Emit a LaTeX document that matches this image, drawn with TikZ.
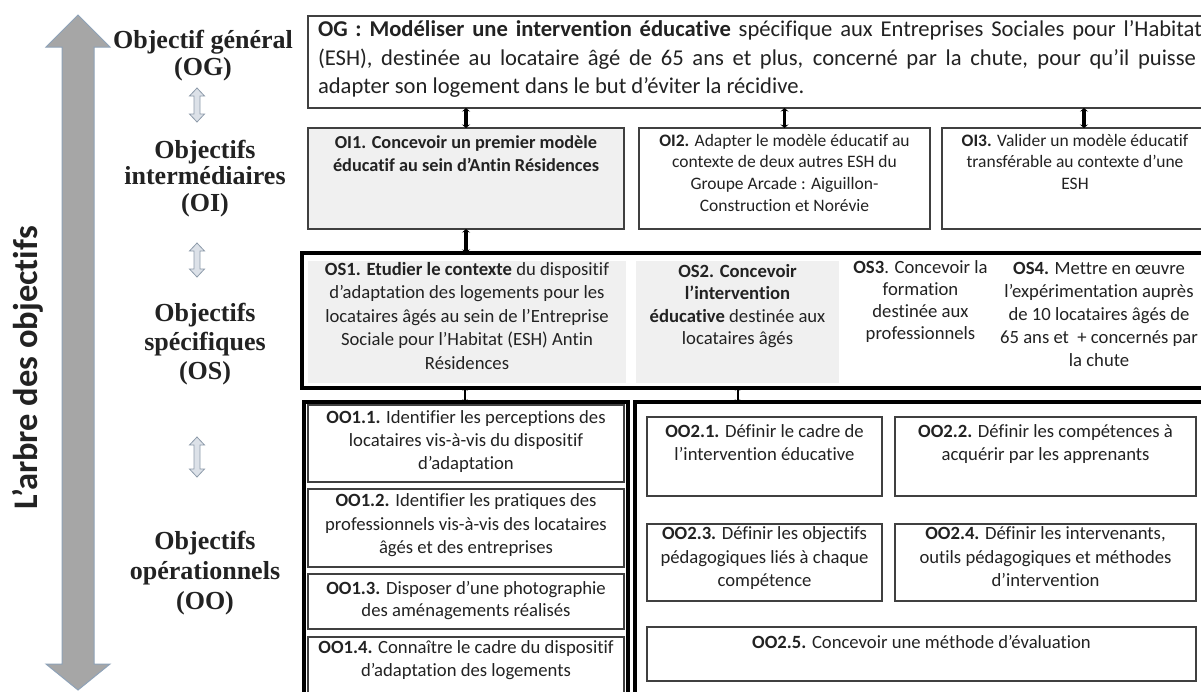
\documentclass[tikz,border=0pt]{standalone}
\usepackage{fontspec}
\setmainfont{Carlito}[Ligatures={NoCommon,NoContextual,NoRare}, Contextuals=NoAlternate]
\newfontfamily\cam{Liberation Serif}
\usetikzlibrary{arrows.meta}
\definecolor{boxgray}{HTML}{F0F0F0}
\definecolor{bigfill}{HTML}{A6A6A6}
\definecolor{bigline}{HTML}{8EA2B8}
\definecolor{smfill}{HTML}{DCE1E8}
\definecolor{smline}{HTML}{8E9BAA}
\definecolor{txt}{HTML}{222222}
\newcommand\fs[2]{\fontsize{#1}{#2}\selectfont}
\tikzset{
  box/.style={draw=black!75, line width=1.1pt, inner sep=0pt, outer sep=0pt, anchor=north west},
  dbox/.style={draw=black!55, line width=0.5pt, double=white, double distance=1.1pt, inner sep=0pt, outer sep=0pt, anchor=north west},
  frame/.style={draw=black, line width=3.2pt, inner sep=0pt, outer sep=0pt, anchor=north west},
  tx/.style={inner sep=0pt, outer sep=0pt, anchor=north, align=center, text=txt, execute at begin node=\strut},
  lab/.style={inner sep=0pt, outer sep=0pt, anchor=north, align=center, text=txt, execute at begin node=\strut},
  conn/.style={draw=black, line width=3.4pt, {Stealth[length=3.5pt,width=8pt]}-{Stealth[length=3.5pt,width=8pt]}},
  sconn/.style={draw=black, line width=2pt, {Stealth[length=2.5pt,width=5.5pt]}-{Stealth[length=2.5pt,width=5.5pt]}},
  sarr/.style={fill=smfill, draw=smline, line width=0.8pt},
}
% box: name, x1, y1, x2, y2, style
\newcommand\bx[6]{\node[#6, minimum width={#4pt-#2pt}, minimum height={#5pt-#3pt}] (#1) at (#2,#3) {};}
% small light double arrow: x, y1, y2
\newcommand\sarrow[3]{\filldraw[sarr] (#1,#2) -- (#1+7.5,#2+8) -- (#1+3,#2+8) -- (#1+3,#3-8) -- (#1+7.5,#3-8) -- (#1,#3) -- (#1-7.5,#3-8) -- (#1-3,#3-8) -- (#1-3,#2+8) -- (#1-7.5,#2+8) -- cycle;}
\begin{document}
\begin{tikzpicture}[x=1pt,y=-1pt]
\useasboundingbox (0,0) rectangle (1201,691);
\clip (0,0) rectangle (1201,691);
\fill[white] (0,0) rectangle (1201,691);

% big vertical double arrow
\filldraw[fill=bigfill, draw=bigline, line width=1pt]
  (78,15) -- (110,47) -- (94,47) -- (94,664) -- (110,664) -- (78,690) -- (46,664) -- (62,664) -- (62,47) -- (46,47) -- cycle;
\node[rotate=90, inner sep=0pt, text=txt, font=\bfseries\fs{34.5}{40}] (title) at (28,368) {L’arbre des objectifs};

% left labels
\node[lab, font=\cam\bfseries\fs{26}{27}] (lOG) at (203,30) {Objectif général\\(OG)};
\node[lab, font=\cam\bfseries\fs{26}{26.5}] (lOI) at (205,140) {Objectifs\\intermédiaires\\(OI)};
\node[lab, font=\cam\bfseries\fs{26}{29}] (lOS) at (205,303) {Objectifs\\spécifiques\\(OS)};
\node[lab, font=\cam\bfseries\fs{26}{30}] (lOO) at (205,531) {Objectifs\\opérationnels\\(OO)};
\sarrow{197}{88}{122}
\sarrow{197}{243}{277}
\sarrow{197}{437}{477}

% OG
\bx{og}{308}{16}{1210}{108}{box}
\node[inner sep=0pt, outer sep=0pt, anchor=north west, align=left, text=txt, font=\fs{22.6}{28.5}, execute at begin node=\strut] (ogt) at (318,21)
 {\makebox[884pt][s]{\textbf{OG : Modéliser une intervention éducative} spécifique aux Entreprises Sociales pour l’Habitat}\\
  \makebox[878pt][s]{(ESH), destinée au locataire âgé de 65 ans et plus, concerné par la chute, pour qu’il puisse}\\
  adapter son logement dans le but d’éviter la récidive.};

% OI
\bx{oi1}{308}{128}{624}{229}{box, fill=boxgray}
\bx{oi2}{639}{128}{930}{229}{box}
\bx{oi3}{942}{128}{1210}{229}{box}
\node[tx, font=\bfseries\fs{18.3}{23}] (oi1t) at (466,136) {OI1. Concevoir un premier modèle\\éducatif au sein d’Antin Résidences};
\node[tx, font=\fs{17.5}{21.7}] (oi2t) at (784.5,134) {\textbf{OI2.} Adapter le modèle éducatif au\\contexte de deux autres ESH du\\Groupe Arcade : Aiguillon-\\Construction et Norévie};
\node[tx, font=\fs{17.5}{21.7}] (oi3t) at (1075,134) {\textbf{OI3.} Valider un modèle éducatif\\transférable au contexte d’une\\ESH};

% OS
\bx{osf}{302}{253}{1215}{388}{frame}
\bx{os1}{307}{260}{627}{384}{dbox, fill=boxgray}
\bx{os2}{635}{260}{840}{384}{dbox, fill=boxgray}
\bx{os3}{847}{260}{994}{384}{dbox}
\bx{os4}{998}{260}{1212}{384}{dbox}
\node[tx, font=\fs{18.67}{23.5}] (os1t) at (467,262) {\textbf{OS1. Etudier le contexte} du dispositif\\d’adaptation des logements pour les\\locataires âgés au sein de l’Entreprise\\Sociale pour l’Habitat (ESH) Antin\\Résidences};
\node[tx, font=\fs{18.67}{22.5}] (os2t) at (737.5,264) {\textbf{OS2. Concevoir}\\\textbf{l’intervention}\\\textbf{éducative} destinée aux\\locataires âgés};
\node[tx, font=\fs{18.67}{22}] (os3t) at (920.5,261) {\textbf{OS3}. Concevoir la\\formation\\destinée aux\\professionnels};
\node[tx, font=\fs{18.67}{23}] (os4t) at (1099,262) {\textbf{OS4.} Mettre en œuvre\\l’expérimentation auprès\\de 10 locataires âgés de\\65 ans et \ + concernés par\\la chute};

% OO frames
\bx{oo1f}{304}{402}{628}{700}{frame}
\bx{oo2f}{635}{402}{1215}{700}{frame}

% OO1 boxes
\bx{oo11}{308}{405}{624}{482}{box}
\bx{oo12}{308}{489}{624}{567}{box}
\bx{oo13}{308}{574}{624}{629}{box}
\bx{oo14}{308}{637}{624}{700}{box}
\node[tx, font=\fs{18.67}{23}] (oo11t) at (466,411) {\textbf{OO1.1.} Identifier les perceptions des\\locataires vis-à-vis du dispositif\\d’adaptation};
\node[tx, font=\fs{18.67}{23.5}] (oo12t) at (466,494) {\textbf{OO1.2.} Identifier les pratiques des\\professionnels vis-à-vis des locataires\\âgés et des entreprises};
\node[tx, font=\fs{18.67}{22}] (oo13t) at (466,581) {\textbf{OO1.3.} Disposer d’une photographie\\des aménagements réalisés};
\node[tx, font=\fs{18.67}{23}] (oo14t) at (466,641) {\textbf{OO1.4.} Connaître le cadre du dispositif\\d’adaptation des logements};

% OO2 boxes
\bx{oo21}{647}{417}{882}{496}{box}
\bx{oo22}{895}{417}{1196}{496}{box}
\bx{oo23}{647}{524}{882}{601}{box}
\bx{oo24}{895}{524}{1196}{601}{box}
\bx{oo25}{647}{627}{1196}{681}{box}
\node[tx, font=\fs{18.67}{23}] (oo21t) at (764.5,425) {\textbf{OO2.1.} Définir le cadre de\\l’intervention éducative};
\node[tx, font=\fs{18.67}{23}] (oo22t) at (1045.5,425) {\textbf{OO2.2.} Définir les compétences à\\acquérir par les apprenants};
\node[tx, font=\fs{18.67}{23.5}] (oo23t) at (764.5,527) {\textbf{OO2.3.} Définir les objectifs\\pédagogiques liés à chaque\\compétence};
\node[tx, font=\fs{18.67}{23.5}] (oo24t) at (1045.5,527) {\textbf{OO2.4.} Définir les intervenants,\\outils pédagogiques et méthodes\\d’intervention};
\node[tx, font=\fs{18.67}{23}] (oo25t) at (921.5,632) {\textbf{OO2.5.} Concevoir une méthode d’évaluation};

% connectors
\draw[conn] (oi1.north |- og.south) -- (oi1.north);
\draw[conn] (oi2.north |- og.south) -- (oi2.north);
\draw[conn] ([xshift=8pt]oi3.north |- og.south) -- ([xshift=8pt]oi3.north);
\draw[conn] (oi1.south) -- (oi1.south |- osf.north);
\draw[sconn] ([xshift=-2pt]os1.south |- osf.south) -- ([xshift=-2pt]os1.south |- oo1f.north);
\draw[sconn] (os2.south |- osf.south) -- (os2.south |- oo2f.north);
\end{tikzpicture}
\end{document}
